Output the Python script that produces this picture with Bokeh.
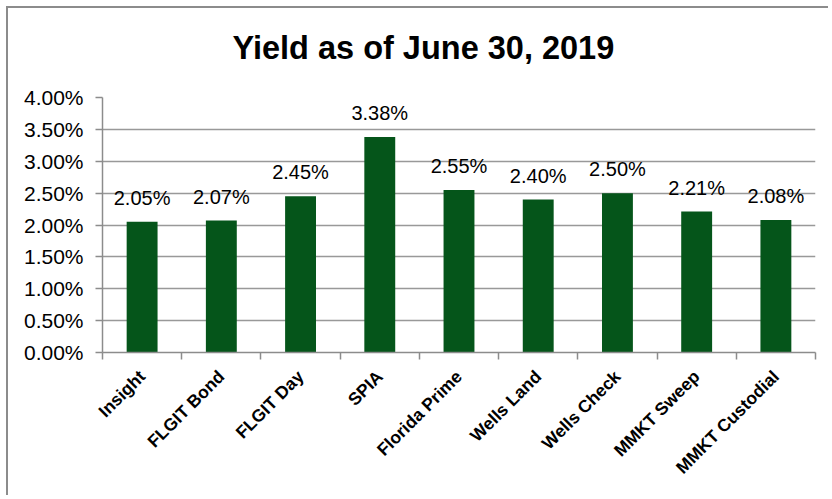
import math
from bokeh.plotting import figure
from bokeh.models import (ColumnDataSource, Range1d, LinearAxis,
                          FixedTicker, PrintfTickFormatter, LabelSet, Title)
from bokeh.core.properties import value
from bokeh.embed import file_html
from bokeh.resources import INLINE

categories = ["Insight", "FLGIT Bond", "FLGIT Day", "SPIA", "Florida Prime",
              "Wells Land", "Wells Check", "MMKT Sweep", "MMKT Custodial"]
yields = [2.05, 2.07, 2.45, 3.38, 2.55, 2.40, 2.50, 2.21, 2.08]
labels = ["2.05%", "2.07%", "2.45%", "3.38%", "2.55%", "2.40%", "2.50%", "2.21%", "2.08%"]
y_ticks = [0.0, 0.5, 1.0, 1.5, 2.0, 2.5, 3.0, 3.5, 4.0]
title_text = "Yield as of June 30, 2019"

FONT = "Liberation Sans"
GRAY = "#8c8c8c"
GREEN = "#05551a"

n = len(categories)
centers = [i + 0.5 for i in range(n)]
src = ColumnDataSource(dict(x=centers, val=yields, lab=labels))

p = figure(width=822, height=489, output_backend="svg", toolbar_location=None,
           x_range=Range1d(0, n), y_range=Range1d(0, 4),
           x_axis_location=None, min_border_left=94, min_border_right=15,
           min_border_top=89, min_border_bottom=145)
p.styles = {"border-top": "2px solid #8c8c8c", "border-left": "2px solid #8c8c8c",
            "margin-top": "6px", "margin-left": "6px"}
p.outline_line_color = None
p.background_fill_color = "white"
p.border_fill_color = "white"

# spacer between frame and title (closest to frame)
spacer = Title(text=" ", text_font=FONT, text_font_size="10px", standoff=0)
p.add_layout(spacer, "above")

t = Title(text=title_text, text_font=FONT, text_font_size="32.5px", text_font_style="bold",
          text_color="black", align="left", offset=130, standoff=38)
p.add_layout(t, "above")

p.vbar(x="x", top="val", width=0.39, source=src, fill_color=GREEN, line_color=None)

p.add_layout(LabelSet(x="x", y="val", text="lab", source=src, text_align="center",
                      text_baseline="alphabetic", y_offset=17, text_font=value(FONT),
                      text_font_size="20px", text_color="black"))

# y axis
ya = p.yaxis[0]
ya.ticker = FixedTicker(ticks=y_ticks)
ya.formatter = PrintfTickFormatter(format="%.2f%%")
ya.axis_line_color = GRAY
ya.axis_line_width = 1.5
ya.major_tick_line_color = GRAY
ya.major_tick_line_width = 1.5
ya.major_tick_in = 0
ya.major_tick_out = 7
ya.minor_tick_line_color = None
ya.major_label_text_font = FONT
ya.major_label_text_font_size = "21px"
ya.major_label_text_color = "black"
ya.major_label_standoff = 12
p.ygrid.ticker = FixedTicker(ticks=y_ticks)
p.ygrid.grid_line_color = "#999999"
p.ygrid.grid_line_width = 1.3
p.xgrid.grid_line_color = None

# boundary tick axis
ta = LinearAxis(ticker=FixedTicker(ticks=list(range(n + 1))))
ta.axis_line_color = GRAY
ta.axis_line_width = 1.5
ta.major_tick_line_color = GRAY
ta.major_tick_line_width = 1.5
ta.major_tick_in = 0
ta.major_tick_out = 7
ta.minor_tick_line_color = None
ta.major_label_text_font_size = "1px"
ta.major_label_text_alpha = 0
ta.major_label_standoff = 0
p.add_layout(ta, "below")

# category label axis
ca = LinearAxis(ticker=FixedTicker(ticks=centers))
ca.major_label_overrides = {c: name for c, name in zip(centers, categories)}
ca.axis_line_color = None
ca.major_tick_line_color = None
ca.minor_tick_line_color = None
ca.major_label_orientation = math.pi / 4
ca.major_label_text_font = FONT
ca.major_label_text_font_size = "17.5px"
ca.major_label_text_font_style = "bold"
ca.major_label_text_color = "black"
ca.major_label_standoff = 8
p.add_layout(ca, "below")

open("out.html", "w").write(file_html(p, INLINE))
